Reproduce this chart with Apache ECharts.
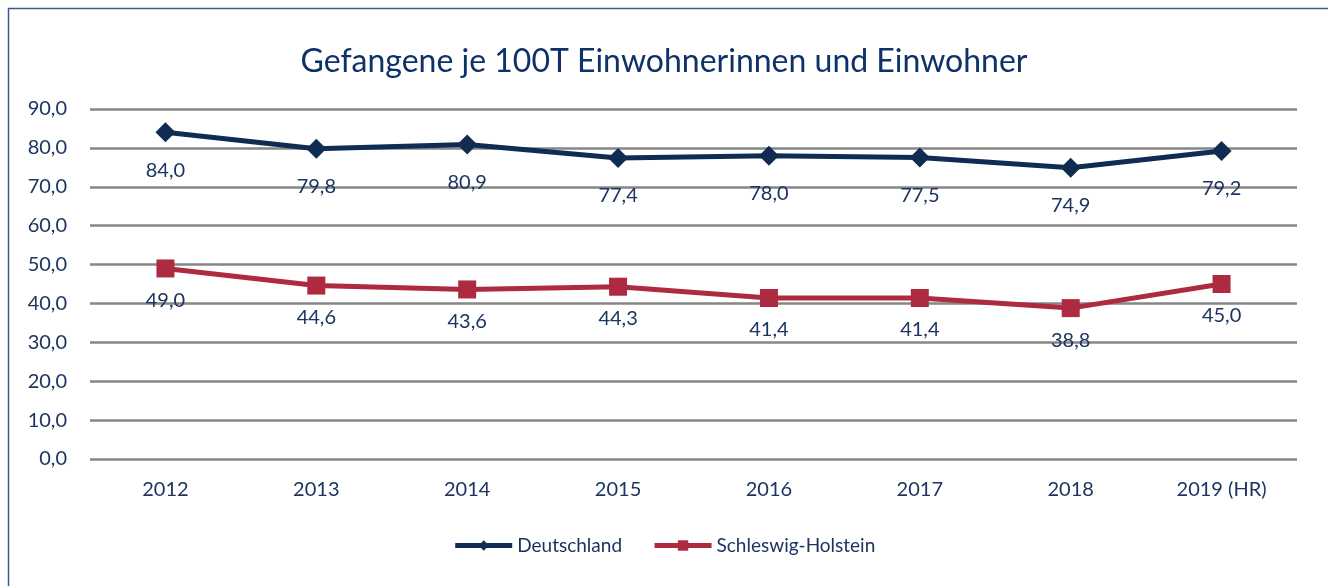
<!DOCTYPE html>
<html>
<head>
<meta charset="utf-8">
<script src="https://cdn.jsdelivr.net/npm/echarts@6/dist/echarts.min.js"></script>
<style>
  html, body { margin: 0; padding: 0; background: #fff; }
  #chart { width: 1328px; height: 586px; }
</style>
</head>
<body>
<div id="chart"></div>
<script>
const years = ['2012', '2013', '2014', '2015', '2016', '2017', '2018', '2019 (HR)']
const deutschland = [84.0, 79.8, 80.9, 77.4, 78.0, 77.5, 74.9, 79.2]
const schleswigHolstein = [49.0, 44.6, 43.6, 44.3, 41.4, 41.4, 38.8, 45.0]

const navy = '#102c52'
const red = '#ad2a40'
const textColor = '#1c3560'
const fmt = v => v.toFixed(1).replace('.', ',')

var myChart = echarts.init(document.getElementById('chart'))
myChart.setOption({
    animation: false,
    textStyle: { fontFamily: 'Lato' },
    title: {
        text: 'Gefangene je 100T Einwohnerinnen und Einwohner',
        left: 'center',
        top: 41,
        textStyle: { color: '#0f3169', fontSize: 32, fontWeight: 'normal', fontFamily: 'Lato' }
    },
    graphic: [{
        type: 'rect',
        shape: { x: 8.5, y: 8.5, width: 1340, height: 600 },
        style: { fill: 'none', stroke: '#3c5c8c', lineWidth: 1.5 },
        silent: true
    }],
    legend: {
        bottom: 26,
        left: 'center',
        itemWidth: 57,
        itemHeight: 13,
        itemGap: 30,
        textStyle: { color: textColor, fontSize: 19 },
        lineStyle: { width: 5 },
        data: ['Deutschland', 'Schleswig-Holstein']
    },
    grid: { left: 90, right: 31, top: 109, bottom: 127 },
    xAxis: {
        type: 'category',
        data: years,
        axisLine: { show: false },
        axisTick: { show: false },
        axisLabel: { color: textColor, fontSize: 20, margin: 21 }
    },
    yAxis: {
        type: 'value',
        min: 0,
        max: 90,
        interval: 10,
        axisLine: { show: false },
        axisTick: { show: false },
        axisLabel: { color: textColor, fontSize: 20, margin: 23, formatter: fmt },
        splitLine: { lineStyle: { color: '#868686', width: 2.5 } }
    },
    series: [{
        name: 'Deutschland',
        type: 'line',
        data: deutschland,
        symbol: 'diamond',
        symbolSize: 20,
        itemStyle: { color: navy },
        lineStyle: { color: navy, width: 5 },
        label: {
            show: true,
            position: 'bottom',
            distance: 18,
            color: textColor,
            fontSize: 20,
            formatter: p => fmt(p.value)
        }
    }, {
        name: 'Schleswig-Holstein',
        type: 'line',
        data: schleswigHolstein,
        symbol: 'rect',
        symbolSize: 18,
        itemStyle: { color: red },
        lineStyle: { color: red, width: 5 },
        label: {
            show: true,
            position: 'bottom',
            distance: 13,
            color: textColor,
            fontSize: 20,
            formatter: p => fmt(p.value)
        }
    }]
})
</script>
</body>
</html>
